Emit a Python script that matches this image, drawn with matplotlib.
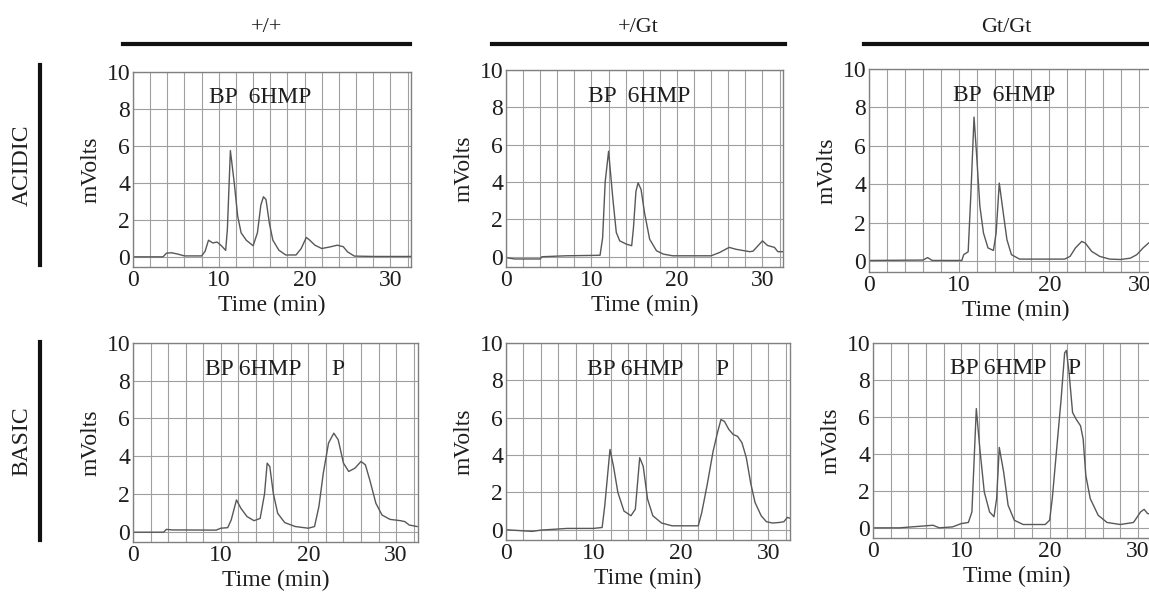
import matplotlib
matplotlib.use("Agg")
import matplotlib.pyplot as plt

plt.rcParams['font.family'] = ['Liberation Serif', 'DejaVu Serif']

# genotype / condition labels
genotypes = ["+/+", "+/Gt", "Gt/Gt"]
conditions = ["ACIDIC", "BASIC"]

# ACIDIC, +/+
t_acid_wt = [0, 3.5, 3.9, 4.5, 5.2, 6, 8, 8.4, 8.8, 9.3, 9.8, 10.3, 10.8, 11.0, 11.35,
             11.8, 12.2, 12.6, 13.2, 14.0, 14.5, 14.9, 15.2, 15.5, 15.9, 16.3, 17.0, 17.8,
             19.0, 19.6, 20.2, 20.6, 21.2, 22.0, 23.0, 23.8, 24.5, 25.0, 25.8, 28, 32.5]
v_acid_wt = [0, 0, 0.2, 0.22, 0.15, 0.05, 0.05, 0.3, 0.9, 0.75, 0.8, 0.6, 0.35, 1.5, 5.75,
             4.0, 2.2, 1.3, 0.9, 0.6, 1.3, 2.8, 3.25, 3.1, 1.8, 0.9, 0.36, 0.1,
             0.1, 0.45, 1.05, 0.9, 0.63, 0.45, 0.54, 0.63, 0.55, 0.27, 0.04, 0.02, 0.02]

# ACIDIC, +/Gt
t_acid_het = [0, 1, 4, 4.2, 7, 10, 11.0, 11.3, 11.6, 12.0, 12.5, 12.9, 13.3, 14.1, 14.7,
              14.9, 15.2, 15.45, 15.8, 16.2, 16.8, 17.6, 18.4, 19.5, 24.0, 25.0, 26.1,
              26.9, 28.5, 28.9, 30.0, 30.6, 31.4, 31.8, 32.4]
v_acid_het = [-0.05, -0.12, -0.12, 0.0, 0.05, 0.07, 0.08, 1.0, 4.0, 5.65, 3.1, 1.3, 0.85, 0.67, 0.59,
              1.5, 3.5, 3.96, 3.6, 2.36, 0.94, 0.32, 0.14, 0.05, 0.05, 0.23, 0.5,
              0.4, 0.27, 0.3, 0.85, 0.6, 0.5, 0.27, 0.27]

# ACIDIC, Gt/Gt
t_acid_hom = [0, 6.0, 6.5, 7.0, 10.3, 10.5, 11.0, 11.3, 11.65, 11.9, 12.3, 12.7, 13.2, 13.8,
              14.1, 14.45, 14.9, 15.3, 15.8, 16.7, 21.7, 22.3, 22.9, 23.6, 24.0, 24.7,
              25.6, 26.7, 27.9, 29.0, 29.7, 30.4, 31.0, 31.5]
v_acid_hom = [0.05, 0.07, 0.2, 0.05, 0.05, 0.35, 0.5, 3.5, 7.5, 5.8, 2.86, 1.47, 0.7, 0.57,
              1.47, 4.07, 2.5, 1.13, 0.35, 0.12, 0.12, 0.26, 0.7, 1.04, 0.95, 0.52,
              0.26, 0.12, 0.1, 0.17, 0.35, 0.7, 0.95, 1.1]

# BASIC, +/+
t_basic_wt = [0, 3.5, 3.8, 4.5, 9.5, 10.0, 10.8, 11.2, 11.8, 12.3, 13.0, 13.8, 14.5, 15.0,
              15.3, 15.6, 16.0, 16.5, 17.3, 18.5, 20.0, 20.7, 21.2, 21.7, 22.3, 22.9, 23.4,
              24.0, 24.6, 25.3, 26.0, 26.5, 27.0, 27.7, 28.4, 29.3, 30.5, 31.0, 31.5, 32.4]
v_basic_wt = [-0.03, -0.03, 0.12, 0.09, 0.08, 0.18, 0.21, 0.62, 1.68, 1.24, 0.8, 0.58, 0.7, 2.0,
              3.63, 3.45, 2.03, 0.97, 0.48, 0.27, 0.18, 0.27, 1.33, 3.1, 4.7, 5.22, 4.87,
              3.63, 3.19, 3.36, 3.72, 3.54, 2.74, 1.5, 0.88, 0.65, 0.58, 0.53, 0.35, 0.27]

# BASIC, +/Gt
t_basic_het = [0, 3.0, 4.0, 7.0, 10.0, 11.0, 11.3, 11.9, 12.3, 12.8, 13.5, 14.3, 14.8, 15.3,
               15.7, 16.2, 16.8, 17.8, 19.0, 22.0, 22.4, 23.0, 23.7, 24.2, 24.6, 25.0, 25.5,
               26.0, 26.5, 27.0, 27.5, 28.0, 28.5, 29.2, 29.8, 30.5, 31.3, 31.8, 32.2, 32.6]
v_basic_het = [0.0, -0.09, -0.02, 0.07, 0.07, 0.12, 1.28, 4.3, 3.4, 2.0, 1.0, 0.75, 1.1, 3.86,
               3.4, 1.64, 0.75, 0.36, 0.21, 0.21, 0.92, 2.35, 4.2, 5.2, 5.9, 5.8, 5.37,
               5.1, 5.0, 4.66, 3.86, 2.5, 1.46, 0.75, 0.43, 0.36, 0.39, 0.43, 0.66, 0.6]

# BASIC, Gt/Gt
t_basic_hom = [0, 3.0, 6.8, 7.5, 9.0, 10.0, 10.8, 11.2, 11.7, 12.1, 12.6, 13.2, 13.7, 14.0,
               14.3, 14.8, 15.3, 16.0, 17.0, 19.5, 20.0, 20.3, 20.8, 21.3, 21.7, 21.9, 22.2,
               22.6, 23.0, 23.5, 23.8, 24.1, 24.6, 25.5, 26.5, 28.0, 29.5, 30.3, 30.7, 31.1, 31.5]
v_basic_hom = [0, 0, 0.14, 0.0, 0.05, 0.23, 0.29, 0.86, 6.45, 4.27, 1.94, 0.86, 0.6, 1.58,
               4.35, 3.0, 1.22, 0.41, 0.18, 0.18, 0.41, 1.58, 4.27, 6.95, 9.46, 9.6, 8.4,
               6.24, 5.88, 5.52, 4.8, 2.83, 1.58, 0.68, 0.29, 0.18, 0.29, 0.86, 1.0, 0.77, 0.75]

acid_labels = ["BP  6HMP"] * 3
basic_labels = ["BP 6HMP", "BP 6HMP", "BP 6HMP"]

W, H = 1149, 597
fig = plt.figure(figsize=(W / 100, H / 100), dpi=100)


def px_axes(left, top, right, bottom):
    # pixel box -> figure fraction
    return fig.add_axes([left / W, 1 - bottom / H, (right - left) / W, (bottom - top) / H])


# (left, top, right, bottom, xmax) in pixels
boxes = [
    [(133, 72, 411, 267, 32.4), (506, 70, 783, 267, 32.4), (869, 69, 1162, 272, 32.5)],
    [(133, 343, 418, 542, 32.5), (506, 343, 790, 540, 32.5), (873, 343, 1160, 538, 32.5)],
]
curves = [
    [(t_acid_wt, v_acid_wt), (t_acid_het, v_acid_het), (t_acid_hom, v_acid_hom)],
    [(t_basic_wt, v_basic_wt), (t_basic_het, v_basic_het), (t_basic_hom, v_basic_hom)],
]
label_x = [[8.8, 9.6, 9.3], [8.2, 9.3, 8.7]]
p_x = [22.6, 24.0, 22.0]

txt = "#1e1e1e"
fs = 17
for r in range(2):
    for c in range(3):
        left, top, right, bottom, xmax = boxes[r][c]
        ax = px_axes(left, top, right, bottom)
        t, v = curves[r][c]
        ax.plot(t, v, color="#585858", lw=1.0)
        ax.set_xlim(0, xmax)
        ax.set_ylim(-0.55, 10)
        ax.set_xticks([0, 10, 20, 30])
        ax.set_xticks(range(0, 33, 2), minor=True)
        ax.set_yticks([0, 2, 4, 6, 8, 10])
        ax.grid(True, which="both", color="#a0a0a0", lw=0.8)
        ax.tick_params(which="both", length=0, labelsize=fs, colors=txt, pad=2)
        for s in ax.spines.values():
            s.set_color("#808080")
            s.set_linewidth(1.0)
        ax.set_ylabel("mVolts", fontsize=fs, color=txt, labelpad=4)
        ax.set_xlabel("Time (min)", fontsize=fs, color=txt, labelpad=3)
        lab = acid_labels[c] if r == 0 else basic_labels[c]
        ax.text(label_x[r][c], 8.6, lab, fontsize=fs, color=txt, va="center", ha="left")
        if r == 1:
            ax.text(p_x[c], 8.6, "P", fontsize=fs, color=txt, va="center", ha="left")

# column headers with bars
head_x = [(123, 410), (492, 785), (864, 1149)]
for g, (x0, x1) in zip(genotypes, head_x):
    fig.text((x0 + x1) / 2 / W, 1 - 27 / H, g, fontsize=16, color=txt, ha="center", va="center")
    fig.add_artist(plt.Line2D([x0 / W, x1 / W], [1 - 44 / H, 1 - 44 / H], color="#111111", lw=3))

# row labels with bars
row_y = [(65, 265), (342, 540)]
for cond, (y0, y1) in zip(conditions, row_y):
    fig.text(22 / W, 1 - (y0 + y1) / 2 / H, cond, fontsize=fs, color=txt,
             rotation=90, ha="center", va="center")
    fig.add_artist(plt.Line2D([40 / W, 40 / W], [1 - y0 / H, 1 - y1 / H], color="#111111", lw=3))

fig.savefig("out.png", dpi=100, facecolor="white")
